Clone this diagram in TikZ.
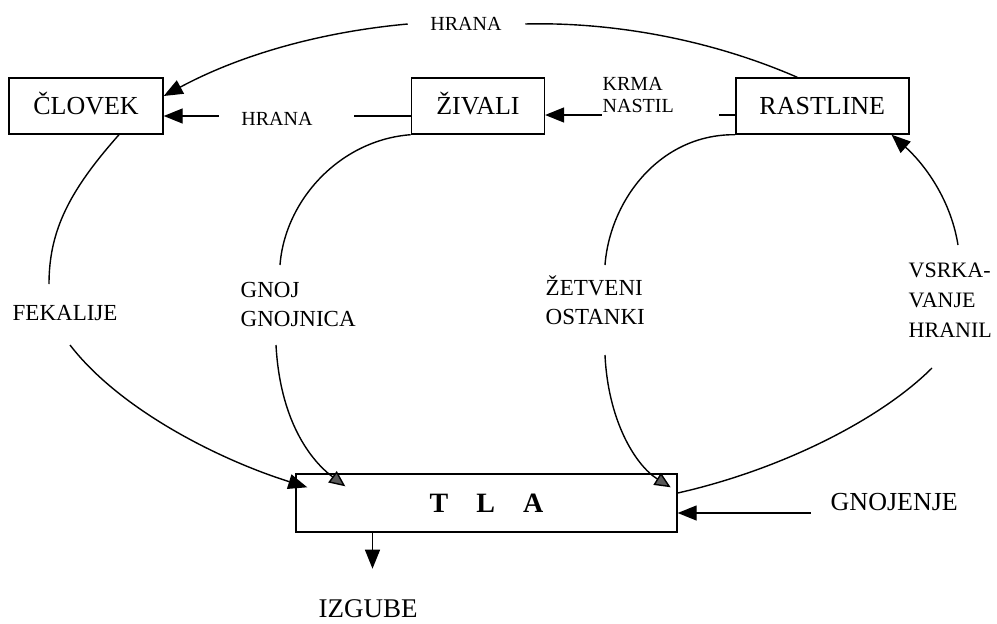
\documentclass[tikz,border=0pt]{standalone}
\usepackage{fontspec}
\setmainfont{Liberation Serif}
\usepackage{tikz}
\usetikzlibrary{arrows.meta}
\usetikzlibrary{positioning}
\tikzset{>={Triangle[length=19pt,width=15pt]},
  box/.style={draw,minimum height=56pt,inner sep=0pt,
    text height=17pt,text depth=0pt,font=\fontsize{26}{30}\selectfont},
  lbl/.style={inner sep=0pt,align=left,font=\fontsize{23}{29}\selectfont},
  small/.style={inner sep=0pt,align=left,font=\fontsize{20}{22}\selectfont},
  hatch/.style={-{Triangle[length=16pt,width=14pt,fill=black!65]}}}

\begin{document}
\begin{tikzpicture}[x=1pt,y=-1pt,line width=1.4pt]
    \useasboundingbox (0,0) rectangle (997,624);
    \node (b1) [box,minimum width=154pt] at (86,106) {ČLOVEK};
    \node (b2) [box,minimum width=133pt,right=247pt of b1] {ŽIVALI};
    \node (b3) [box,minimum width=173pt,right=190pt of b2] {RASTLINE};
    \node (b4) [box,minimum width=381pt,minimum height=58pt,text height=19pt,
      font=\bfseries\fontsize{28}{30}\selectfont] at (486.5,503) {T\quad L\quad A};

    \node (t1) [small] at (466,24) {HRANA};
    \node (t2) [small] at (277,119) {HRANA};
    \node (t3) [small,anchor=north west] at (602,77) {KRMA\\NASTIL};
    \node (t4) [lbl,anchor=base west] at (12,320) {FEKALIJE};
    \node (t5) [lbl,anchor=north west] at (240,282) {GNOJ\\GNOJNICA};
    \node (t6) [lbl,anchor=north west] at (545,275) {ŽETVENI\\OSTANKI};
    \node (t7) [lbl,anchor=north west,font=\fontsize{22}{30}\selectfont] at (908,262) {VSRKA-\\VANJE\\HRANIL};
    \node (t8) [lbl,anchor=base west,font=\fontsize{26}{30}\selectfont] at (830,510) {GNOJENJE};
    \node (t9) [lbl,anchor=base west,font=\fontsize{27}{30}\selectfont] at (318,617) {IZGUBE};

    \coordinate (f1) at (49,284);
    \coordinate (f2) at (70,345);
    \coordinate (g1) at (280,265);
    \coordinate (g2) at (276,345);
    \coordinate (z1) at (605,265);
    \coordinate (z2) at (605,355);
    \coordinate (v1) at (932,368);
    \coordinate (v2) at (958,245);

    \draw ([xshift=-25pt]b3.north) .. controls (700,35) and (600,22) .. ([xshift=23pt]t1.east);
    \draw[->] ([xshift=-22pt]t1.west) .. controls (320,32) and (240,55) .. ([yshift=10pt]b1.east);
    \draw ([yshift=-10pt]b2.west) -- ++(-57,0);
    \draw[<-] ([yshift=-10pt]b1.east) -- ++(55,0);
    \draw ([yshift=-9pt]b3.west) -- ++(-16,0);
    \draw[<-] ([yshift=-9pt]b2.east) -- ++(57,0);

    \draw ([xshift=33pt]b1.south) .. controls (70,190) and (49,230) .. (f1);
    \draw[->] (f2) .. controls (120,410) and (220,460) .. ([xshift=12pt,yshift=-14pt]b4.north west);
    \draw (b2.south west) .. controls (340,140) and (285,200) .. (g1);
    \draw[hatch] (g2) .. controls (280,420) and (310,460) .. ([xshift=50pt,yshift=-13pt]b4.north west);
    \draw (b3.south west) .. controls (660,134) and (610,200) .. (z1);
    \draw[hatch] (z2) .. controls (608,420) and (635,465) .. ([xshift=-7pt,yshift=-14pt]b4.north east);
    \draw ([yshift=10pt]b4.east) .. controls (780,470) and (880,420) .. (v1);
    \draw[->] (v2) .. controls (950,195) and (920,160) .. ([xshift=-18pt]b3.south east);

    \draw[<-] ([yshift=-10pt]b4.east) -- ++(133,0);
    \draw[->] ([xshift=-114pt]b4.south) -- ++(0,36);
  \end{tikzpicture}
\end{document}
